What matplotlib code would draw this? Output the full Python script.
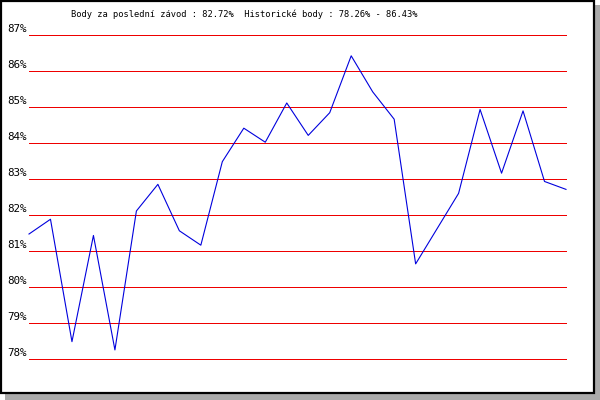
import matplotlib
matplotlib.use("Agg")
import matplotlib.pyplot as plt
from matplotlib.patches import Rectangle
from matplotlib.transforms import blended_transform_factory

# points per race (%)
races = list(range(26))
points = [81.48, 81.89, 78.49, 81.44, 78.26, 82.12, 82.86, 81.57, 81.17, 83.49,
          84.42, 84.03, 85.12, 84.22, 84.85, 86.43, 85.43, 84.67, 80.65, 81.63,
          82.61, 84.94, 83.17, 84.90, 82.94, 82.72]
grid_levels = [78, 79, 80, 81, 82, 83, 84, 85, 86, 87]
grid_labels = ["%d%%" % v for v in grid_levels]
title = "Body za poslední závod : 82.72%  Historické body : 78.26% - 86.43%"

W, H = 600, 400
fig = plt.figure(figsize=(6, 4), dpi=100)
fig.patch.set_facecolor("white")

def pix_rect(x, y, w, h, **kw):
    # pixel box, y measured from the top
    return Rectangle((x / W, 1 - (y + h) / H), w / W, h / H,
                     transform=fig.transFigure, **kw)

# frame with drop shadow, kept under the axes
fig.patches.append(pix_rect(5, 5, 595, 395, facecolor="#aaaaaa",
                            edgecolor="none", zorder=-2))
fig.patches.append(pix_rect(1, 1, 593, 392, facecolor="white",
                            edgecolor="black", linewidth=1.6, zorder=-1))

# plot area
x0, x1 = 29, 566
y_top, y_bot = 35.3, 359.3
ax = fig.add_axes([x0 / W, 1 - y_bot / H, (x1 - x0) / W, (y_bot - y_top) / H])
ax.set_xlim(0, 25)
ax.set_ylim(78, 87)
ax.axis("off")
ax.patch.set_alpha(0)

for v in grid_levels:
    ax.axhline(v, color="#ee0000", lw=0.72, clip_on=False, antialiased=False)

ax.plot(races, points, color="#0000dd", lw=0.8, clip_on=False)

trans = blended_transform_factory(fig.transFigure, ax.transData)
for v, lab in zip(grid_levels, grid_labels):
    ax.text(26.5 / W, v + 0.05, lab, transform=trans, ha="right", va="bottom",
            fontsize=7.8, family="DejaVu Sans Mono")

fig.text(244.5 / W, 1 - 14 / H, title, ha="center", va="center",
         fontsize=6.3, family="DejaVu Sans Mono")

fig.savefig("out.png", dpi=100)
